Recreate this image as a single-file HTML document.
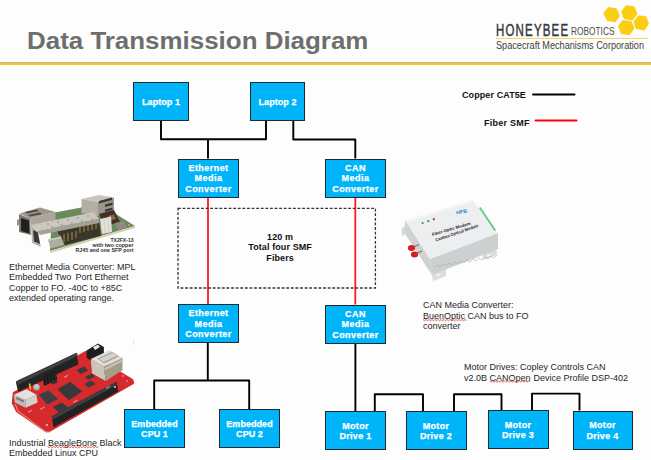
<!DOCTYPE html>
<html><head><meta charset="utf-8">
<style>
html,body{margin:0;padding:0;}
body{width:651px;height:460px;overflow:hidden;position:relative;background:#fdfdfd;font-family:"Liberation Sans",sans-serif;}
.a{position:absolute;}
.box{position:absolute;box-sizing:border-box;background:#00b4f9;border:1px solid #1a2b33;color:#fff;font-weight:bold;font-size:9px;line-height:10.4px;text-align:center;display:flex;flex-direction:column;justify-content:center;letter-spacing:0.35px;padding-top:1px;-webkit-text-stroke:0.25px #fff;}
.cap{position:absolute;font-size:9px;line-height:10.5px;color:#1f1f1f;white-space:nowrap;}
.lg{position:absolute;font-size:9px;font-weight:bold;color:#111;white-space:nowrap;}
svg{position:absolute;left:0;top:0;}
</style></head>
<body>
<!-- header -->
<div class="a" style="left:0;top:61.5px;width:651px;height:1px;background:#b4b4b4;"></div>
<div class="a" style="left:0;top:62.5px;width:651px;height:2.8px;background:#fdca0a;"></div>
<div class="a" style="left:27px;top:28.3px;font-size:23.5px;font-weight:bold;color:#6e6e6e;white-space:nowrap;transform:scaleX(1.103);transform-origin:0 0;">Data Transmission Diagram</div>

<!-- logo -->
<div class="a" style="left:496px;top:22px;font-size:15.8px;font-weight:normal;-webkit-text-stroke:0.45px #383838;color:#383838;white-space:nowrap;letter-spacing:1.6px;transform:scaleX(0.728);transform-origin:0 0;">HONEYBEE</div>
<div class="a" style="left:570.5px;top:24.6px;font-size:11.4px;color:#4a4a4a;white-space:nowrap;transform:scaleX(0.73);transform-origin:0 0;">ROBOTICS</div>
<div class="a" style="left:496px;top:38px;width:152px;height:1px;background:#f3d46a;"></div>
<div class="a" style="left:496px;top:39.5px;font-size:10px;color:#3e3e3e;white-space:nowrap;transform:scaleX(0.915);transform-origin:0 0;">Spacecraft Mechanisms Corporation</div>
<svg width="651" height="460" viewBox="0 0 651 460">
 <g fill="#fbcd14">
  <polygon points="603.3,13.5 608,7 616.5,8.3 620,15.7 615.6,22.2 607.2,20.9"/>
  <polygon points="621.1,11.3 626,5.2 634.5,6.5 637.6,13.9 632.4,20.4 623.7,19.1"/>
  <polygon points="633.3,21.7 638.5,15.2 646.3,16.5 648.9,23.5 644.6,30.4 635.9,29.1"/>
  <polygon points="618,26.1 622.8,20 631.5,21.3 634.6,28.2 629.8,35.2 621.1,33.9"/>
 </g>
</svg>

<!-- connectors -->
<svg width="651" height="460" viewBox="0 0 651 460">
 <g fill="none" stroke="#000" stroke-width="1.9" stroke-linejoin="round">
  <path d="M161,121 V139.2 H266 V121"/>
  <path d="M208,139.2 V158.5"/>
  <path d="M293.3,121 V139.5 H355.3 V158.5"/>
  <path d="M207.8,343 V380.5"/>
  <path d="M154.2,409 V380.5 H249.2 V409"/>
  <path d="M355.4,343.5 V411"/>
  <path d="M374.8,411 V394.3 H423 V411"/>
  <path d="M454,411 V394.2 H501.5 V410"/>
  <path d="M532,410 V393.6 H579.5 V410.5"/>
 </g>
 <g fill="none" stroke="#ff1a1a" stroke-width="1.8">
  <path d="M208,197.5 V304"/>
  <path d="M355.3,197.5 V304.5"/>
 </g>
 <rect x="178" y="208.3" width="197.4" height="79.7" fill="none" stroke="#333" stroke-width="1.3" stroke-dasharray="2.8,1.8"/>
 <g stroke-width="2" stroke-linecap="round">
  <line x1="533" y1="94.5" x2="574.5" y2="94.5" stroke="#000"/>
  <line x1="535.5" y1="120.4" x2="576.5" y2="120.4" stroke="#ff0000"/>
 </g>
</svg>

<!-- boxes -->
<div class="box" style="letter-spacing:0.05px;left:133px;top:82px;width:56px;height:39px;">Laptop 1</div>
<div class="box" style="letter-spacing:0.05px;left:250px;top:82px;width:55px;height:39px;">Laptop 2</div>
<div class="box" style="letter-spacing:0.45px;left:178px;top:158.5px;width:61px;height:39px;">Ethernet<br>Media<br>Converter</div>
<div class="box" style="letter-spacing:0.45px;left:325px;top:158.5px;width:61px;height:39px;">CAN<br>Media<br>Converter</div>
<div class="box" style="letter-spacing:0.45px;left:178px;top:304px;width:61px;height:39px;">Ethernet<br>Media<br>Converter</div>
<div class="box" style="letter-spacing:0.45px;left:325px;top:304.5px;width:61px;height:39px;">CAN<br>Media<br>Converter</div>
<div class="box" style="letter-spacing:0.05px;line-height:10.1px;left:124px;top:409px;width:61px;height:39px;">Embedded<br>CPU 1</div>
<div class="box" style="letter-spacing:0.05px;line-height:10.1px;left:219px;top:409px;width:61px;height:39px;">Embedded<br>CPU 2</div>
<div class="box" style="letter-spacing:0.3px;left:325px;top:411px;width:61px;height:39px;">Motor<br>Drive 1</div>
<div class="box" style="letter-spacing:0.3px;left:405.5px;top:411px;width:61px;height:39px;">Motor<br>Drive 2</div>
<div class="box" style="letter-spacing:0.3px;left:487.5px;top:410px;width:61px;height:39px;">Motor<br>Drive 3</div>
<div class="box" style="letter-spacing:0.3px;left:572.5px;top:410.5px;width:60px;height:39px;">Motor<br>Drive 4</div>

<!-- dashed text -->
<div class="lg" style="left:181.6px;top:231.8px;width:197px;text-align:center;line-height:10.5px;letter-spacing:0.1px;">120 m<br>Total four SMF<br>Fibers</div>

<!-- legend -->
<div class="lg" style="left:462px;top:90px;letter-spacing:0.09px;">Copper CAT5E</div>
<div class="lg" style="left:484px;top:117.6px;letter-spacing:0.25px;">Fiber SMF</div>


<!-- ethernet board image -->
<svg width="651" height="460" viewBox="0 0 651 460">
 <!-- pcb -->
 <polygon points="52,213 100,204 135,226 50,251" fill="#6a8a5e"/>
 <polygon points="50,251 135,226 135,228 50,253" fill="#d8cfae"/>
 <!-- right rj45 -->
 <polygon points="81.5,199 99,195 114,197.5 98,202" fill="#c9c5bd"/>
 <polygon points="81.5,199 98,202 98,216 81.5,213" fill="#b3aea5"/>
 <polygon points="98,202 114,197.5 114,212 98,216" fill="#9b968d"/>
 <polygon points="99,201 112,197.5 112,200 99,203.5" fill="#3a3836"/>
 <polygon points="105,204.5 112.5,202.5 112.5,205 105,207" fill="#3a3836"/>
 <polygon points="105,209.5 112.5,207.5 112.5,210 105,212" fill="#3a3836"/>
 <!-- inductors/dark components -->
 <polygon points="99,214 114,210 120,222 104,226" fill="#3e3128"/>
 <polygon points="108,216 114,214.5 116,219 110,220.5" fill="#8a6548"/>
 <!-- pins area -->
 <polygon points="57,231 99,221 101,236 65,245" fill="#3b362c"/>
 <g stroke="#c9a24a" stroke-width="0.8">
  <line x1="60" y1="235" x2="60" y2="243"/><line x1="64" y1="234" x2="64" y2="242"/><line x1="68" y1="233" x2="68" y2="241"/>
  <line x1="72" y1="232" x2="72" y2="240"/><line x1="76" y1="231" x2="76" y2="238"/><line x1="80" y1="224" x2="80" y2="233"/>
  <line x1="84" y1="223" x2="84" y2="232"/><line x1="88" y1="222" x2="88" y2="231"/><line x1="92" y1="221" x2="92" y2="230"/><line x1="96" y1="220" x2="96" y2="229"/>
 </g>
 <!-- white connector -->
 <polygon points="100,219 111,216.5 112,232 102,234" fill="#e2e0da"/>
 <line x1="104" y1="219" x2="105" y2="233" stroke="#c2bfb8" stroke-width="0.6"/>
 <line x1="108" y1="218" x2="109" y2="232" stroke="#c2bfb8" stroke-width="0.6"/>
 <!-- small right component -->
 <polygon points="115,223 124,221 127,228 118,230" fill="#8f8a81"/>
 <circle cx="129" cy="225" r="0.9" fill="#d4b050"/>
 <!-- left rj45 -->
 <polygon points="19.5,213.5 40,207.5 55.5,212 30,218.5" fill="#9d978d"/>
 <polygon points="25,212 37,209.5 39,211 27,213.5" fill="#4a4744"/>
 <polygon points="28,215 40,212.5 42,214 30,216.5" fill="#4a4744"/>
 <polygon points="30,218.5 55.5,212 55.5,220 31,226" fill="#aba59b"/>
 <polygon points="19,214 30,218.5 31,235 19,232" fill="#7f7a72"/>
 <polygon points="21,218 29,220.5 29.5,233.5 21,231" fill="#1f1f1f"/>
 <polygon points="17,220 19,219 19,225 17,226" fill="#9a968e"/>
 <!-- sfp cage -->
 <polygon points="31,225 94,212 99,219 37,231" fill="#cbc7bf"/>
 <g fill="#7d7972">
  <circle cx="48" cy="224" r="0.65"/><circle cx="58" cy="222" r="0.65"/><circle cx="68" cy="220" r="0.65"/><circle cx="78" cy="218" r="0.65"/><circle cx="88" cy="216" r="0.65"/>
  <circle cx="52" cy="227" r="0.65"/><circle cx="62" cy="225" r="0.65"/><circle cx="72" cy="223" r="0.65"/><circle cx="82" cy="221" r="0.65"/><circle cx="92" cy="219" r="0.65"/>
 </g>
 <polygon points="37,231 99,219 99,223 40,235" fill="#a6a198"/>
 <polygon points="31,225 37,231 41,247 32,243" fill="#b9b4ab"/>
 <polygon points="33,230 38,232.5 40,244 34,241.5" fill="#3b3934"/>
 <!-- small silver part -->
 <polygon points="48,239.5 61,236.5 64,245 50.5,248.5" fill="#b2ada4"/>
 <polygon points="48,239.5 61,236.5 61.5,238 48.5,241" fill="#cfcbc3"/>
 <!-- text -->
 <g font-family="Liberation Sans" font-weight="bold" font-size="4.6" fill="#303030" text-anchor="end">
  <text x="133.5" y="242" textLength="23" lengthAdjust="spacingAndGlyphs">TX2FX-13</text>
  <text x="133.5" y="247" textLength="41" lengthAdjust="spacingAndGlyphs">with two copper</text>
  <text x="133.5" y="252" textLength="58" lengthAdjust="spacingAndGlyphs">RJ45 and one SFP port</text>
 </g>
</svg>

<!-- beaglebone image -->
<svg width="651" height="460" viewBox="0 0 651 460">
 <polygon points="14,393 86,352 132,380 133,383 49,431 46,431 17,411 13,403" fill="#d62a2c" stroke="#d62a2c" stroke-width="2.5" stroke-linejoin="round"/>
 <polyline points="15,404 18,411 46,432 50,432" fill="none" stroke="#f2b0b0" stroke-width="0.8"/>
 <!-- back header -->
 <polygon points="15.8,382 76.5,352.8 78.4,364.5 18.2,391.8" fill="#232323"/>
 <polygon points="16.3,381 77.2,352.8 77.6,356 16.8,384.5" fill="#3b3b3b"/>
 <line x1="17.5" y1="384.2" x2="76.5" y2="355" stroke="#4a4a4a" stroke-width="2.2" stroke-dasharray="0.9,1.25"/>
 <polygon points="43,377 56,371 57,380 44,386" fill="#1a1a1a"/>
 <g stroke="#3c3c3c" stroke-width="0.6"><line x1="46" y1="377" x2="46.5" y2="384"/><line x1="49" y1="375.5" x2="49.5" y2="382.5"/><line x1="52" y1="374" x2="52.5" y2="381"/><line x1="55" y1="372.5" x2="55.5" y2="379.5"/></g>
 <!-- front header -->
 <polygon points="51.7,416.5 116.5,381.7 118.3,391.5 53.5,427.5" fill="#222"/>
 <polygon points="51.7,416.5 116.5,381.7 116.9,385 52.2,419.8" fill="#3a3a3a"/>
 <line x1="52.5" y1="418.5" x2="116" y2="384" stroke="#4a4a4a" stroke-width="2.2" stroke-dasharray="0.9,1.25"/>
 <!-- chips -->
 <polygon points="57.2,389.3 70.2,381.7 82.2,391.5 69.1,400.2" fill="#38383d"/>
 <polygon points="38.7,394.8 48.5,390.4 58.3,399.1 47.4,404.6" fill="#3d3d45"/>
 <polygon points="52.8,406.7 61.5,402.4 69.1,407.8 59.3,413.3" fill="#3a3a3e"/>
 <polygon points="76.7,370 84,366.5 88,370.5 80.5,374" fill="#3a3a3a"/>
 <polygon points="85,377 92,373.5 95,376.5 88,380" fill="#3a3a3a"/>
 <polygon points="50,382 55,379.5 58,382 53,384.5" fill="#2e2e2e"/>
 <polygon points="84,384 91,380.5 96,384 89,387.5" fill="#3c3c40"/>
 <!-- power jack -->
 <polygon points="86.6,350.5 97.9,343.4 103.9,347 103.9,354.1 91.4,360.7 86.6,357.7" fill="#1e1e1e"/>
 <polygon points="93,347 98,344.5 100,347 95,350" fill="#e8e8e8"/>
 <!-- ethernet jack -->
 <polygon points="90.8,358.9 109.9,350 122.5,357.7 103.9,366.7" fill="#e2e0da"/>
 <polygon points="97,358.5 112,352 119,356.5 104,363.5" fill="#a8a59e"/>
 <polygon points="99,359 112.5,353 117,355.8 103.5,362" fill="#d6d3cc"/>
 <polygon points="90.8,358.9 103.9,366.7 105.7,381 92,373.3" fill="#c9c5bb"/>
 <polygon points="103.9,366.7 122.5,357.7 122.5,370.3 105.7,381" fill="#a49d8a"/>
 <polygon points="104.5,368 121.5,359.5 121.5,362 104.5,370.5" fill="#c8c2b2"/>
 <!-- usb -->
 <polygon points="13.7,394.8 26.7,389.3 36.5,394.8 25.7,400" fill="#e2e2e2"/>
 <polygon points="13.7,394.8 25.7,400 25.7,407.8 14.8,402.4" fill="#bdbdbd"/>
 <polygon points="25.7,400 36.5,394.8 37.6,402.4 25.7,407.8" fill="#cfcfcf"/>
 <polygon points="16,397 24,400.5 24,402.5 16,399" fill="#777"/>
 <!-- capacitor -->
 <circle cx="36.5" cy="387.2" r="3.3" fill="#a8a8a8"/>
 <circle cx="36.5" cy="386.4" r="2.2" fill="#c9c9c9"/>
 <line x1="29.5" y1="383.5" x2="30.5" y2="389.5" stroke="#e8c020" stroke-width="1.6"/>
 <g fill="#9a9a9a"><circle cx="133.5" cy="340" r="0.45"/><circle cx="133.5" cy="342" r="0.45"/><circle cx="133.5" cy="344" r="0.45"/></g>
 <g fill="#f2c8c8" opacity="0.9">
  <rect x="64" y="377" width="4" height="0.8" transform="rotate(-28 64 377)"/>
  <rect x="40" y="409" width="5" height="0.8" transform="rotate(-28 40 409)"/>
  <rect x="28" y="412" width="4" height="0.8" transform="rotate(-28 28 412)"/>
  <rect x="96" y="366" width="3" height="0.8" transform="rotate(-28 96 366)"/>
  <rect x="106" y="388" width="4" height="0.8" transform="rotate(-28 106 388)"/>
  <rect x="73" y="402" width="5" height="0.8" transform="rotate(-28 73 402)"/>
 </g>
 <!-- white dots -->
 <g fill="#f4e0e0"><circle cx="115" cy="387" r="0.9"/><circle cx="47" cy="425" r="0.9"/><circle cx="127" cy="381" r="0.7"/><circle cx="123" cy="376" r="0.7"/></g>
</svg>

<!-- CAN box image -->
<svg width="651" height="460" viewBox="0 0 651 460">
 <!-- flange -->
 <polygon points="431,271 446,265 446,276 433,281" fill="#dcdcdc"/>
 <ellipse cx="438" cy="275" rx="2.2" ry="1" fill="#f4f4f4"/>
 <polygon points="482,253 496,247 497,255 483,260" fill="#dcdcdc"/>
 <ellipse cx="489" cy="255" rx="2.2" ry="1" fill="#f4f4f4"/>
 <polygon points="401.8,228 404.8,226.5 404.8,235 401.8,236" fill="#d8d8d8"/>
 <!-- front faces -->
 <polygon points="405,220 430,259 432,275 404.5,233" fill="#cfd2d3"/>
 <polygon points="430,259 498,233 498,249 432,275" fill="#cdd0d1"/>
 <!-- top face -->
 <polygon points="405,220 472,200 498,233 430,259" fill="#eceeef"/>
 <polygon points="405,220 472,200 473,202 407,222" fill="#f6f7f7"/>
 <!-- green terminal -->
 <polygon points="479,208 480.5,207 496,230 494.5,231" fill="#62c987"/>
 <!-- leds -->
 <circle cx="422.6" cy="223" r="1.1" fill="#2f9a48"/><circle cx="428.3" cy="221.2" r="1.1" fill="#2f9a48"/><circle cx="433.8" cy="219.2" r="1.1" fill="#b83030"/>
 <!-- text -->
 <g font-family="Liberation Sans" font-weight="bold" font-size="4.3" fill="#1e1e1e">
  <text x="0" y="0" transform="translate(432.5,236) rotate(-16.5)" textLength="40" lengthAdjust="spacingAndGlyphs">Fiber Optic Modem</text>
  <text x="0" y="0" transform="translate(436,241.5) rotate(-19)" textLength="45" lengthAdjust="spacingAndGlyphs">Canbus Optical Module</text>
 </g>
 <text x="0" y="0" transform="translate(456.5,214.5) rotate(-10)" font-family="Liberation Sans" font-weight="bold" font-size="5" fill="#2a7fd4" textLength="11" lengthAdjust="spacingAndGlyphs">HFB</text>
 <!-- red connectors -->
 <g stroke="#77777a" stroke-width="1.2"><line x1="413.5" y1="247" x2="419" y2="244.5"/><line x1="416.5" y1="253.5" x2="422" y2="251"/></g>
 <g fill="#d42020">
  <ellipse cx="411.5" cy="248" rx="3.6" ry="3"/>
  <ellipse cx="414.5" cy="254.5" rx="3.6" ry="3"/>
 </g>
 <!-- ridge line on front -->
 <polyline points="434,268 437,265 440,267 443,264 446,266 449,263 452,265 455,262 458,264 461,261 464,263 467,260 470,262 473,259 476,261 479,258 482,260 485,257 488,259 491,256 494,258 497,255" fill="none" stroke="#a9acae" stroke-width="0.6"/>
</svg>

<!-- captions -->
<div class="cap" style="left:9px;top:261.7px;">Ethernet Media Converter: MPL<br>Embedded Two <span style="margin-left:1.5px">Port</span> Ethernet<br>Copper to FO. -40C to +85C<br>extended operating range.</div>
<div class="cap" style="left:9px;top:437.5px;">Industrial BeagleBone Black<br>Embedded Linux CPU</div>
<div class="cap" style="left:423px;top:300px;">CAN Media Converter:<br>BuenOptic CAN bus to FO<br>converter</div>
<div class="cap" style="left:464px;top:362px;">Motor Drives: Copley Controls CAN<br>v2.0B CANOpen <span style="margin-left:0.5px">Device</span> Profile DSP-402</div>

<!-- squiggles -->
<svg width="651" height="460" viewBox="0 0 651 460"><polyline points="47.5,446.5 49.0,447.7 50.5,446.5 52.0,447.7 53.5,446.5 55.0,447.7 56.5,446.5 58.0,447.7 59.5,446.5 61.0,447.7 62.5,446.5 64.0,447.7 65.5,446.5 67.0,447.7 68.5,446.5 70.0,447.7 71.5,446.5 73.0,447.7 74.5,446.5 76.0,447.7 77.5,446.5 79.0,447.7 80.5,446.5 82.0,447.7 83.5,446.5 85.0,447.7 86.5,446.5 88.0,447.7 89.5,446.5 91.0,447.7 92.5,446.5 94.0,447.7 95.5,446.5 97.0,447.7 98.5,446.5" fill="none" stroke="#e23030" stroke-width="0.75"/><polyline points="423.0,319.5 424.5,320.7 426.0,319.5 427.5,320.7 429.0,319.5 430.5,320.7 432.0,319.5 433.5,320.7 435.0,319.5 436.5,320.7 438.0,319.5 439.5,320.7 441.0,319.5 442.5,320.7 444.0,319.5 445.5,320.7 447.0,319.5 448.5,320.7 450.0,319.5 451.5,320.7 453.0,319.5 454.5,320.7 456.0,319.5 457.5,320.7 459.0,319.5 460.5,320.7 462.0,319.5 463.5,320.7 465.0,319.5 466.5,320.7" fill="none" stroke="#e23030" stroke-width="0.75"/><polyline points="489.5,381.0 491.0,382.2 492.5,381.0 494.0,382.2 495.5,381.0 497.0,382.2 498.5,381.0 500.0,382.2 501.5,381.0 503.0,382.2 504.5,381.0 506.0,382.2 507.5,381.0 509.0,382.2 510.5,381.0 512.0,382.2 513.5,381.0 515.0,382.2 516.5,381.0 518.0,382.2 519.5,381.0 521.0,382.2 522.5,381.0 524.0,382.2 525.5,381.0 527.0,382.2 528.5,381.0 530.0,382.2" fill="none" stroke="#e23030" stroke-width="0.75"/></svg>
</body></html>
